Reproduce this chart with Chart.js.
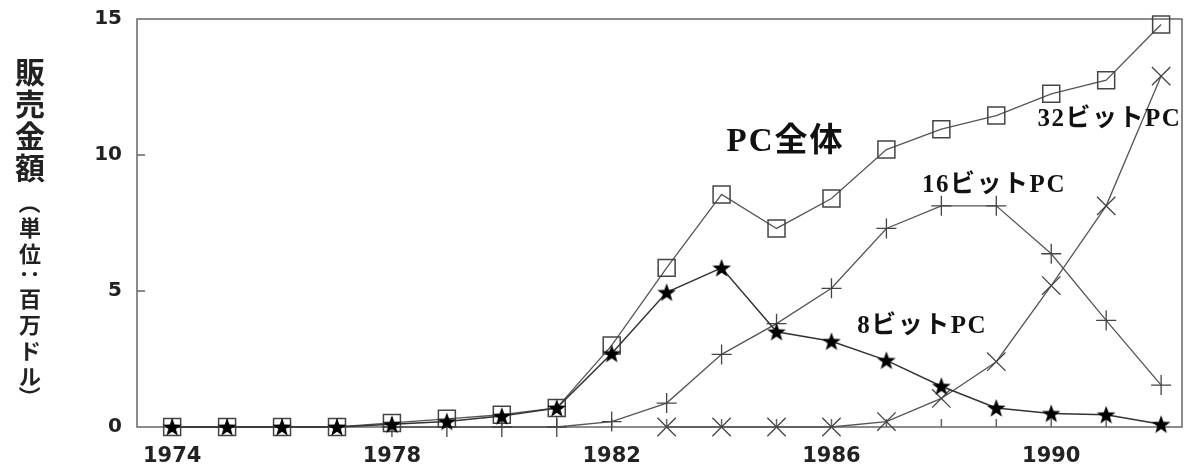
<!DOCTYPE html>
<html>
<head>
<meta charset="utf-8">
<style>
  body { margin: 0; background: #fff; }
  #wrap { width: 1200px; height: 474px; }
</style>
<script src="https://cdn.jsdelivr.net/npm/chart.js@4/dist/chart.umd.min.js"></script>
</head>
<body>
<div id="wrap"><canvas id="pcSalesChart" width="1200" height="474"></canvas></div>
<script>
  const years = [1974, 1975, 1976, 1977, 1978, 1979, 1980, 1981, 1982, 1983, 1984, 1985, 1986, 1987, 1988, 1989, 1990, 1991, 1992];
  const totalPC = [0, 0, 0, 0, 0.15, 0.3, 0.45, 0.7, 3.0, 5.85, 8.55, 7.3, 8.4, 10.2, 10.95, 11.45, 12.25, 12.75, 14.8];
  const bit8PC = [0, 0, 0, 0, 0.1, 0.2, 0.4, 0.7, 2.7, 4.95, 5.85, 3.5, 3.15, 2.45, 1.5, 0.7, 0.5, 0.45, 0.1];
  const bit16PC = [null, null, null, null, 0, 0, 0, 0, 0.2, 0.88, 2.67, 3.8, 5.1, 7.3, 8.13, 8.13, 6.37, 3.92, 1.54];
  const bit32PC = [null, null, null, null, null, null, null, null, null, 0, 0, 0, 0, 0.2, 1.05, 2.4, 5.2, 8.13, 12.9];
  const xTickLabels = [1974, 1978, 1982, 1986, 1990];
  const yTickLabels = [0, 5, 10, 15];

  const yTitleMain = "販売金額";
  const yTitleSub = "（単位：百万ドル）";

  // series labels placed inside the plot (data coords)
  const seriesLabels = [
    { text: "PC全体", x: 1984.09, y: 10.45, size: 33, spacing: 2 },
    { text: "32ビットPC", x: 1989.75, y: 11.3, size: 25, spacing: 1.5 },
    { text: "16ビットPC", x: 1987.65, y: 8.86, size: 25, spacing: 1.5 },
    { text: "8ビットPC", x: 1986.47, y: 3.7, size: 25, spacing: 1.5 },
  ];

  function toPoints(vals) {
    return years
      .map((yr, i) => ({ x: yr, y: vals[i] }))
      .filter((p) => p.y !== null);
  }

  // filled star marker
  const starImg = document.createElement("canvas");
  starImg.width = 20;
  starImg.height = 20;
  (function () {
    const c = starImg.getContext("2d");
    c.beginPath();
    for (let i = 0; i < 10; i++) {
      const r = i % 2 === 0 ? 9.8 : 4;
      const a = -Math.PI / 2 + (i * Math.PI) / 5;
      const px = 10 + r * Math.cos(a);
      const py = 10.8 + r * Math.sin(a);
      if (i === 0) c.moveTo(px, py);
      else c.lineTo(px, py);
    }
    c.closePath();
    c.fillStyle = "#000";
    c.fill();
  })();

  const framePlugin = {
    id: "frame",
    beforeDatasetsDraw(chart) {
      const ctx = chart.ctx;
      const a = chart.chartArea;
      const xs = chart.scales.x;
      const ys = chart.scales.y;
      ctx.save();
      ctx.strokeStyle = "#666";
      ctx.lineWidth = 1.5;
      ctx.strokeRect(a.left, a.top, a.right - a.left, a.bottom - a.top);
      // inner ticks
      ctx.beginPath();
      years.forEach((yr) => {
        const px = xs.getPixelForValue(yr);
        ctx.moveTo(px, a.bottom);
        ctx.lineTo(px, a.bottom - 8);
      });
      [5, 10].forEach((v) => {
        const py = ys.getPixelForValue(v);
        ctx.moveTo(a.left, py);
        ctx.lineTo(a.left + 8, py);
      });
      ctx.stroke();
      ctx.restore();
    },
    afterDraw(chart) {
      const ctx = chart.ctx;
      const xs = chart.scales.x;
      const ys = chart.scales.y;
      ctx.save();
      // series labels
      ctx.fillStyle = "#111";
      ctx.textBaseline = "middle";
      ctx.textAlign = "left";
      seriesLabels.forEach((l) => {
        ctx.font = "bold " + l.size + "px 'Liberation Serif', 'Noto Sans CJK JP', serif";
        ctx.letterSpacing = l.spacing + "px";
        ctx.fillText(l.text, xs.getPixelForValue(l.x), ys.getPixelForValue(l.y));
      });
      ctx.letterSpacing = "0px";

      // vertical y-axis title
      ctx.textAlign = "center";
      ctx.fillStyle = "#222";
      let cy = 72;
      ctx.font = "bold 30px 'Noto Sans CJK JP', sans-serif";
      for (const ch of yTitleMain) {
        ctx.fillText(ch, 30, cy);
        cy += 32;
      }
      cy = 203;
      ctx.font = "bold 22px 'Noto Sans CJK JP', sans-serif";
      for (const ch of yTitleSub) {
        const rotate = ch === "（" || ch === "）" || ch === "：";
        if (rotate) {
          ctx.save();
          ctx.translate(30, cy);
          ctx.rotate(Math.PI / 2);
          ctx.fillText(ch, 0, 0);
          ctx.restore();
          cy += 19;
        } else {
          ctx.fillText(ch, 30, cy + 6);
          cy += 26;
        }
      }
      ctx.restore();
    },
  };

  const lineColor = "#555";

  new Chart(document.getElementById("pcSalesChart"), {
    type: "line",
    data: {
      datasets: [
        {
          label: "8ビットPC",
          data: toPoints(bit8PC),
          borderColor: "#333",
          borderWidth: 1.5,
          pointStyle: starImg,
          clip: false,
          order: 0,
        },
        {
          label: "16ビットPC",
          data: toPoints(bit16PC),
          borderColor: lineColor,
          borderWidth: 1.3,
          pointStyle: "cross",
          pointRadius: 10,
          pointBorderColor: "#444",
          pointBorderWidth: 1.3,
          clip: false,
          order: 1,
        },
        {
          label: "32ビットPC",
          data: toPoints(bit32PC),
          borderColor: lineColor,
          borderWidth: 1.3,
          pointStyle: "crossRot",
          pointRadius: 13,
          pointBorderColor: "#444",
          pointBorderWidth: 1.3,
          clip: false,
          order: 2,
        },
        {
          label: "PC全体",
          data: toPoints(totalPC),
          borderColor: lineColor,
          borderWidth: 1.3,
          pointStyle: "rect",
          pointRadius: 12,
          pointBorderColor: "#444",
          pointBackgroundColor: "rgba(0,0,0,0)",
          pointBorderWidth: 1.5,
          clip: false,
          order: 3,
        },
      ],
    },
    options: {
      responsive: false,
      animation: false,
      layout: { padding: { top: 6, right: 18, left: 0, bottom: 0 } },
      elements: { line: { tension: 0 } },
      plugins: {
        legend: { display: false },
        tooltip: { enabled: false },
      },
      scales: {
        x: {
          type: "linear",
          min: 1973.36,
          max: 1992.38,
          grid: { display: false },
          border: { display: false },
          afterFit(scale) {
            scale.height = 47;
          },
          afterBuildTicks(scale) {
            scale.ticks = xTickLabels.map((v) => ({ value: v }));
          },
          ticks: {
            padding: 9,
            color: "#222",
            font: { family: "'DejaVu Sans', sans-serif", size: 21, weight: "bold" },
            callback: (v) => String(v),
          },
        },
        y: {
          min: 0,
          max: 15,
          grid: { display: false },
          border: { display: false },
          afterFit(scale) {
            scale.width = 137;
          },
          afterBuildTicks(scale) {
            scale.ticks = yTickLabels.map((v) => ({ value: v }));
          },
          ticks: {
            padding: 7,
            color: "#222",
            font: { family: "'DejaVu Sans', sans-serif", size: 20, weight: "bold" },
          },
        },
      },
    },
    plugins: [framePlugin],
  });
</script>
</body>
</html>
